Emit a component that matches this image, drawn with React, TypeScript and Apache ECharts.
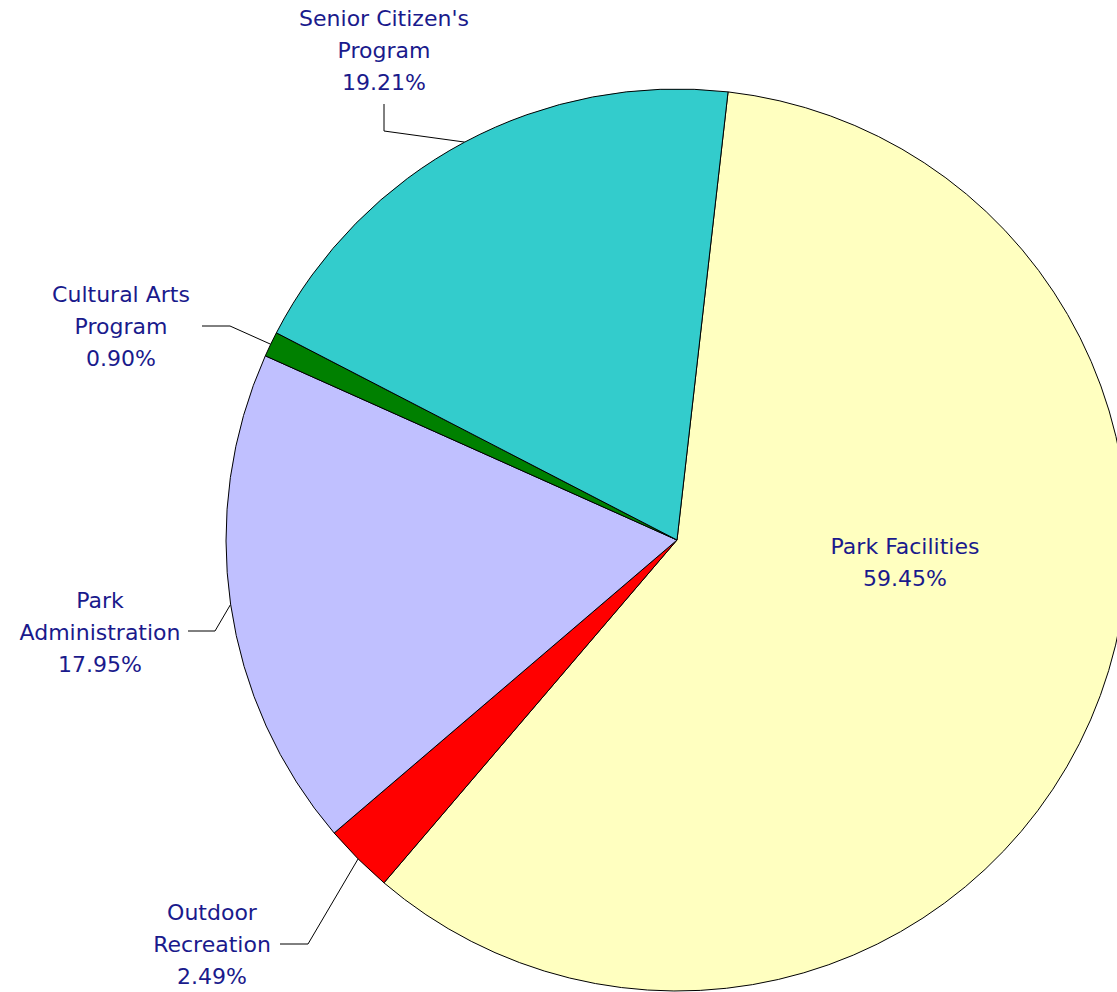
import React, { useEffect, useRef } from "react";
import * as echarts from "echarts";

const categories = [
  "Park Facilities",
  "Outdoor\nRecreation",
  "Park\nAdministration",
  "Cultural Arts\nProgram",
  "Senior Citizen's\nProgram",
];
const values = [59.45, 2.49, 17.95, 0.9, 19.21];
const colors = ["#FFFFC0", "#FF0000", "#C0C0FF", "#008000", "#33CCCC"];

// label layout: [text center x, text middle y, elbow x, elbow y, end x, end y]
const labelPlaces: number[][] = [
  [905, 562, 0, 0, 0, 0],
  [212, 944, 308, 944, 280, 944],
  [100, 632, 215, 631, 188, 631],
  [121, 326, 230, 326, 202, 326],
  [384, 50, 384, 131, 384, 104],
];

export default function App() {
  const ref = useRef<HTMLDivElement>(null);
  useEffect(() => {
    if (!ref.current) return;
    const chart = echarts.init(ref.current, null, { renderer: "svg" });
    const cx = 677;
    const cy = 540;
    const r = 451;
    chart.setOption({
      animation: false,
      backgroundColor: "#ffffff",
      series: [
        {
          type: "pie",
          center: [cx, cy],
          radius: r,
          startAngle: 83.5,
          clockwise: true,
          avoidLabelOverlap: false,
          itemStyle: { borderColor: "#000000", borderWidth: 1 },
          label: {
            show: true,
            formatter: (p: any) => `${p.name}\n${p.value.toFixed(2)}%`,
            color: "#1a1a8c",
            fontFamily: "DejaVu Sans",
            fontSize: 22,
            lineHeight: 32,
            align: "center",
          },
          labelLine: {
            show: true,
            lineStyle: { color: "#000000", width: 1 },
          },
          labelLayout: (params: any) => {
            const i = params.dataIndex;
            const pl = labelPlaces[i];
            if (i === 0) {
              return { x: pl[0], y: pl[1], align: "center", verticalAlign: "middle" };
            }
            let p0 = params.labelLinePoints && params.labelLinePoints[0];
            if (!p0) {
              p0 = [cx, cy];
            }
            return {
              x: pl[0],
              y: pl[1],
              align: "center",
              verticalAlign: "middle",
              labelLinePoints: [p0, [pl[2], pl[3]], [pl[4], pl[5]]],
            };
          },
          data: categories.map((c, i) => ({
            name: c,
            value: values[i],
            itemStyle: { color: colors[i] },
            label: i === 0 ? { position: "inside" } : undefined,
            labelLine: i === 0 ? { show: false } : undefined,
          })),
        },
      ],
    });
    return () => chart.dispose();
  }, []);
  return (
    <div
      ref={ref}
      style={{ position: "fixed", left: 0, top: 0, width: 1117, height: 992 }}
    />
  );
}
